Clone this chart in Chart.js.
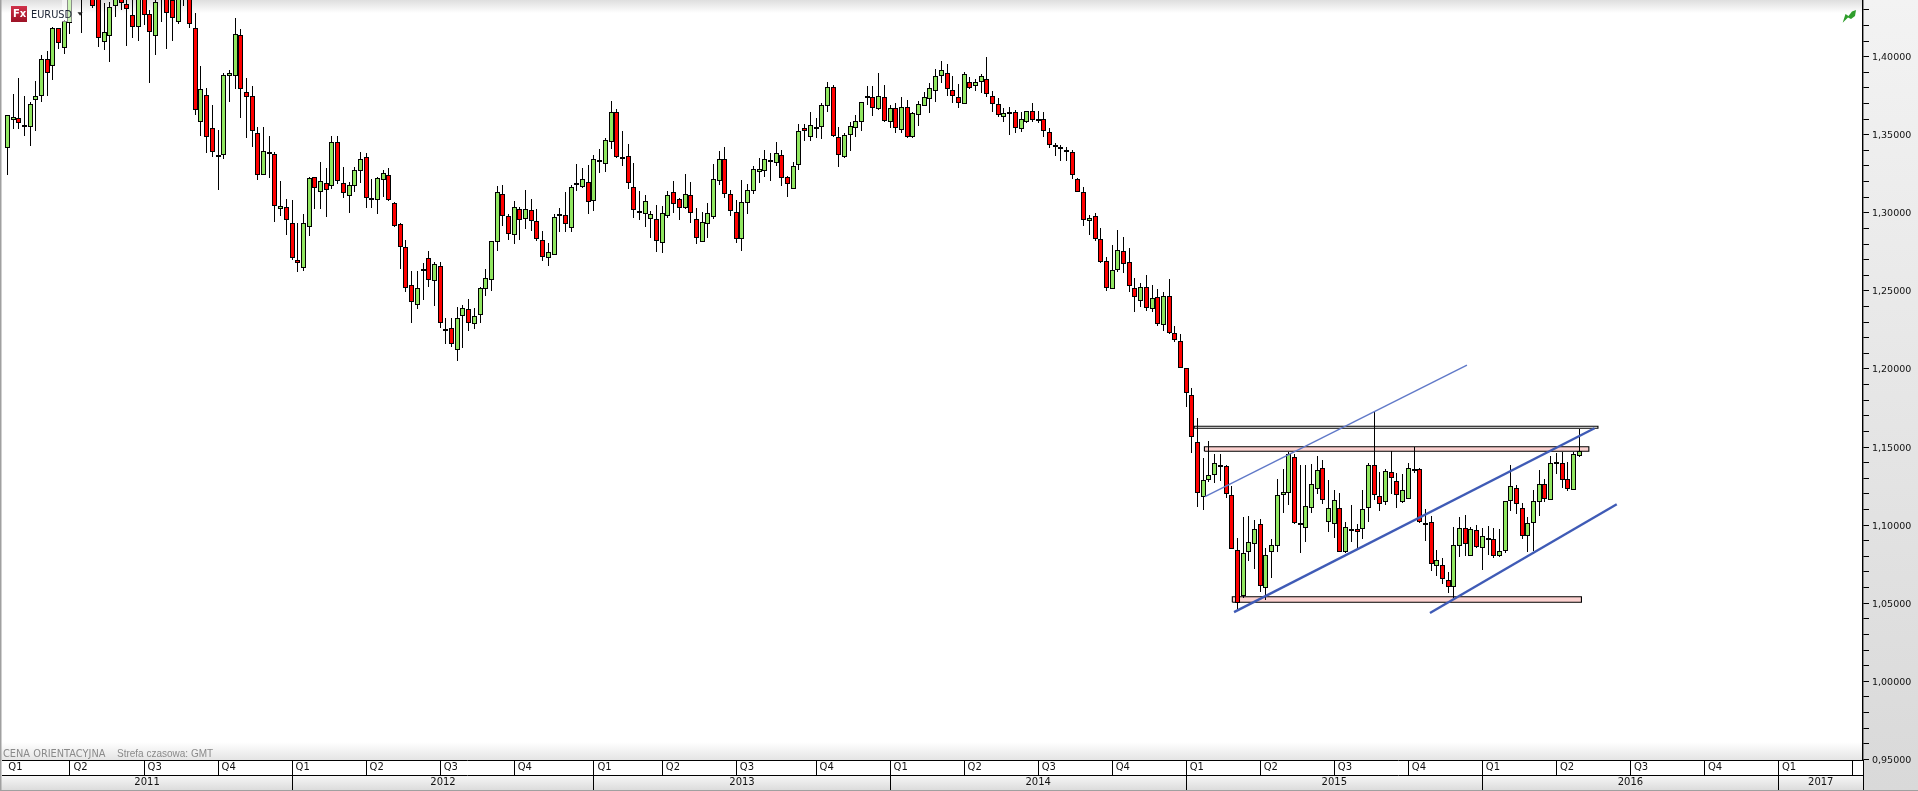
<!DOCTYPE html>
<html>
<head>
<meta charset="utf-8">
<title>EURUSD</title>
<script src="https://cdn.jsdelivr.net/npm/chart.js@4"></script>
<style>
  html, body { margin: 0; padding: 0; background: #fff; overflow: hidden; }
  canvas { display: block; }
</style>
</head>
<body>
<canvas id="chart" width="1918" height="791"></canvas>
<script>
// weekly candles (the ones above the top edge are guesses)
const opens = [
  1.3413,1.3592,1.3605,1.3560,1.3547,1.3720,1.3750,1.3987,1.3938,1.4182,
  1.4058,1.4218,1.4427,1.4427,1.4448,1.4406,1.4374,1.4092,1.4130,1.4325,
  1.4384,1.4335,1.4265,1.4188,1.4427,1.4271,1.4130,1.4395,1.4384,1.4363,
  1.4224,1.4384,1.4374,1.4182,1.3579,1.3752,1.3541,1.3368,1.3368,1.3874,
  1.3874,1.4137,1.3772,1.3746,1.3509,1.3240,1.3387,1.3374,1.3022,1.3035,
  1.2933,1.2696,1.2644,1.2907,1.3227,1.3131,1.3189,1.3170,1.3451,1.3189,
  1.3105,1.3170,1.3266,1.3355,1.3093,1.3080,1.3208,1.3240,1.3061,1.2926,
  1.2779,1.2535,1.2407,1.2625,1.2708,1.2561,1.2657,1.2256,1.2260,1.2119,
  1.2337,1.2382,1.2286,1.2343,1.2510,1.2567,1.2811,1.3118,1.2977,1.2856,
  1.3022,1.2958,1.3016,1.2945,1.2824,1.2708,1.2732,1.2977,1.2984,1.2901,
  1.3182,1.3163,1.3195,1.3073,1.3336,1.3310,1.3451,1.3644,1.3360,1.3362,
  1.3163,1.3009,1.2990,1.2958,1.2958,1.2804,1.2977,1.3131,1.3086,1.3029,
  1.3112,1.2958,1.2811,1.2926,1.2971,1.3202,1.3342,1.3118,1.3003,1.2830,
  1.3061,1.3138,1.3259,1.3266,1.3336,1.3317,1.3368,1.3227,1.3150,1.3304,
  1.3541,1.3483,1.3547,1.3547,1.3682,1.3804,1.3483,1.3355,1.3496,1.3541,
  1.3579,1.3746,1.3740,1.3663,1.3740,1.3579,1.3669,1.3528,1.3676,1.3483,
  1.3624,1.3682,1.3727,1.3778,1.3874,1.3893,1.3784,1.3740,1.3695,1.3836,
  1.3810,1.3836,1.3855,1.3746,1.3695,1.3616,1.3631,1.3644,1.3535,1.3579,
  1.3650,1.3603,1.3599,1.3515,1.3432,1.3419,1.3402,1.3387,1.3214,1.3131,
  1.2945,1.2977,1.2830,1.2689,1.2510,1.2632,1.2753,1.2683,1.2516,1.2433,
  1.2523,1.2382,1.2459,1.2279,1.2465,1.2228,1.2177,1.2004,1.1831,1.1530,
  1.1177,1.1286,1.1318,1.1382,1.1376,1.1190,1.0838,1.0543,1.0825,1.0876,
  1.1004,1.0594,1.0825,1.0863,1.1190,1.1203,1.1434,1.1011,1.0979,1.1107,
  1.1229,1.1363,1.1017,1.1004,1.1107,1.0825,1.0968,1.0972,1.0972,1.1107,
  1.1382,1.1184,1.1145,1.1337,1.1280,1.1145,1.1165,1.1357,1.1357,1.1011,
  1.1017,1.0735,1.0742,1.0646,1.0601,1.0863,1.0979,1.0799,1.0966,1.0851,
  1.0915,1.0908,1.0799,1.0831,1.1152,1.1235,1.1107,1.0928,1.1011,1.1145,
  1.1261,1.1158,1.1389,1.1395,1.1293,1.1222,1.1440
];
const closes = [
  1.3624,1.3611,1.3577,1.3552,1.3695,1.3750,1.3983,1.3898,1.4182,1.4085,
  1.4231,1.4384,1.4470,1.4384,1.4512,1.4325,1.4117,1.4160,1.4316,1.4448,
  1.4342,1.4303,1.4188,1.4406,1.4265,1.4156,1.4352,1.4448,1.4278,1.4246,
  1.4406,1.4427,1.4207,1.3656,1.3791,1.3483,1.3387,1.3362,1.3880,1.3893,
  1.4143,1.3791,1.3744,1.3522,1.3240,1.3394,1.3381,1.3041,1.3041,1.2952,
  1.2708,1.2676,1.2933,1.3221,1.3157,1.3202,1.3144,1.3451,1.3202,1.3125,
  1.3176,1.3272,1.3342,1.3093,1.3080,1.3221,1.3253,1.3084,1.2913,1.2779,
  1.2516,1.2431,1.2516,1.2638,1.2567,1.2670,1.2292,1.2251,1.2158,1.2324,
  1.2388,1.2292,1.2337,1.2516,1.2580,1.2817,1.3131,1.2977,1.2862,1.3035,
  1.2952,1.3022,1.2945,1.2830,1.2715,1.2747,1.2971,1.2990,1.2926,1.3163,
  1.3189,1.3214,1.3067,1.3342,1.3323,1.3464,1.3644,1.3355,1.3353,1.3189,
  1.3016,1.3003,1.3073,1.2990,1.2817,1.2997,1.3112,1.3054,1.3029,1.3118,
  1.2997,1.2836,1.2939,1.2997,1.3214,1.3342,1.3118,1.3009,1.2830,1.3067,
  1.3144,1.3278,1.3278,1.3342,1.3330,1.3381,1.3221,1.3182,1.3298,1.3522,
  1.3522,1.3560,1.3541,1.3688,1.3804,1.3490,1.3368,1.3496,1.3554,1.3586,
  1.3708,1.3740,1.3669,1.3746,1.3586,1.3669,1.3541,1.3676,1.3483,1.3637,
  1.3695,1.3740,1.3797,1.3874,1.3913,1.3791,1.3750,1.3701,1.3887,1.3801,
  1.3836,1.3874,1.3759,1.3695,1.3624,1.3637,1.3644,1.3541,1.3599,1.3650,
  1.3592,1.3597,1.3522,1.3432,1.3426,1.3413,1.3400,1.3240,1.3131,1.2952,
  1.2965,1.2830,1.2683,1.2516,1.2632,1.2760,1.2670,1.2529,1.2459,1.2523,
  1.2388,1.2452,1.2286,1.2465,1.2228,1.2183,1.2004,1.1844,1.1562,1.1203,
  1.1286,1.1318,1.1395,1.1376,1.1197,1.0844,1.0498,1.0819,1.0889,1.0972,
  1.0607,1.0806,1.0870,1.1190,1.1209,1.1453,1.1011,1.0998,1.1120,1.1261,
  1.1350,1.1158,1.1107,1.1158,1.0825,1.0985,1.0972,1.0957,1.1100,1.1382,
  1.1190,1.1137,1.1344,1.1299,1.1190,1.1222,1.1363,1.1350,1.1019,1.1004,
  1.0748,1.0774,1.0652,1.0601,1.0870,1.0979,1.0876,1.0972,1.0861,1.0928,
  1.0913,1.0799,1.0831,1.1152,1.1248,1.1132,1.0928,1.1011,1.1152,1.1261,
  1.1165,1.1395,1.1402,1.1286,1.1229,1.1453,1.1476
];
const highs = [
  1.3626,1.3761,1.3861,1.3748,1.3712,1.3844,1.4011,1.4036,1.4188,1.4184,
  1.4235,1.4448,1.4491,1.4470,1.4534,1.4448,1.4406,1.4346,1.4352,1.4470,
  1.4427,1.4363,1.4363,1.4427,1.4459,1.4299,1.4363,1.4470,1.4427,1.4374,
  1.4448,1.4470,1.4395,1.4278,1.3940,1.3797,1.3690,1.3530,1.3893,1.3915,
  1.4246,1.4175,1.3861,1.3812,1.3547,1.3547,1.3492,1.3387,1.3202,1.3086,
  1.3082,1.2933,1.2990,1.3231,1.3231,1.3323,1.3285,1.3492,1.3492,1.3291,
  1.3199,1.3295,1.3387,1.3381,1.3214,1.3227,1.3272,1.3285,1.3067,1.2933,
  1.2826,1.2625,1.2625,1.2676,1.2753,1.2683,1.2683,1.2324,1.2324,1.2395,
  1.2409,1.2446,1.2388,1.2527,1.2638,1.2817,1.3172,1.3178,1.2990,1.3073,
  1.3039,1.3144,1.3086,1.3022,1.2881,1.2807,1.2990,1.3029,1.3131,1.3176,
  1.3313,1.3285,1.3304,1.3370,1.3409,1.3477,1.3714,1.3663,1.3524,1.3439,
  1.3317,1.3138,1.3112,1.3014,1.3048,1.3044,1.3138,1.3202,1.3093,1.3249,
  1.3195,1.3029,1.3003,1.3061,1.3313,1.3394,1.3419,1.3146,1.3080,1.3208,
  1.3182,1.3298,1.3349,1.3402,1.3381,1.3451,1.3402,1.3234,1.3323,1.3567,
  1.3569,1.3644,1.3605,1.3701,1.3836,1.3816,1.3550,1.3509,1.3579,1.3624,
  1.3708,1.3812,1.3812,1.3893,1.3819,1.3688,1.3701,1.3740,1.3720,1.3644,
  1.3714,1.3772,1.3829,1.3919,1.3972,1.3951,1.3874,1.3823,1.3904,1.3868,
  1.3855,1.3889,1.3996,1.3780,1.3733,1.3669,1.3676,1.3658,1.3646,1.3652,
  1.3701,1.3650,1.3644,1.3541,1.3445,1.3432,1.3419,1.3400,1.3221,1.3163,
  1.2984,1.2997,1.2901,1.2715,1.2792,1.2888,1.2843,1.2772,1.2580,1.2548,
  1.2599,1.2535,1.2510,1.2495,1.2574,1.2273,1.2222,1.2004,1.1876,1.1683,
  1.1427,1.1538,1.1453,1.1453,1.1384,1.1250,1.0915,1.1049,1.1056,1.1032,
  1.1036,1.0851,1.0908,1.1293,1.1357,1.1470,1.1453,1.1382,1.1382,1.1389,
  1.1440,1.1414,1.1286,1.1222,1.1203,1.1021,1.1126,1.1004,1.1222,1.1395,
  1.1726,1.1337,1.1357,1.1472,1.1331,1.1325,1.1395,1.1502,1.1363,1.1100,
  1.1058,1.0840,1.0787,1.0697,1.0985,1.1049,1.1064,1.0989,1.1000,1.0979,
  1.0992,1.0979,1.0972,1.1154,1.1384,1.1254,1.1139,1.1049,1.1224,1.1350,
  1.1293,1.1442,1.1463,1.1466,1.1404,1.1466,1.1615
];
const lows = [
  1.3244,1.3535,1.3535,1.3492,1.3428,1.3526,1.3710,1.3748,1.3851,1.4049,
  1.4017,1.4145,1.4374,1.4154,1.4384,1.4310,1.4064,1.4043,1.3968,1.4256,
  1.4299,1.4071,1.4122,1.4103,1.4203,1.3834,1.4011,1.4224,1.4051,1.4103,
  1.4209,1.4325,1.4182,1.3626,1.3492,1.3385,1.3355,1.3146,1.3347,1.3712,
  1.3791,1.3609,1.3481,1.3424,1.3210,1.3240,1.3221,1.2943,1.2980,1.2858,
  1.2698,1.2623,1.2629,1.2854,1.3022,1.3022,1.2975,1.3155,1.3184,1.3095,
  1.3001,1.3135,1.3193,1.3031,1.3031,1.2992,1.3099,1.3078,1.2907,1.2638,
  1.2495,1.2292,1.2384,1.2441,1.2523,1.2403,1.2260,1.2162,1.2143,1.2049,
  1.2136,1.2245,1.2256,1.2296,1.2469,1.2501,1.2757,1.2918,1.2828,1.2802,
  1.2828,1.2894,1.2886,1.2822,1.2693,1.2661,1.2728,1.2879,1.2879,1.2879,
  1.3142,1.3157,1.2994,1.3014,1.3257,1.3263,1.3411,1.3349,1.3302,1.3150,
  1.2969,1.2956,1.2911,1.2841,1.2751,1.2745,1.2965,1.3001,1.2956,1.3022,
  1.2937,1.2798,1.2811,1.2836,1.2958,1.3176,1.3097,1.2982,1.2809,1.2757,
  1.2994,1.3123,1.3189,1.3231,1.3204,1.3298,1.3174,1.3103,1.3150,1.3276,
  1.3462,1.3462,1.3479,1.3475,1.3648,1.3483,1.3295,1.3349,1.3398,1.3488,
  1.3526,1.3688,1.3620,1.3656,1.3584,1.3545,1.3513,1.3509,1.3477,1.3477,
  1.3558,1.3682,1.3641,1.3708,1.3834,1.3750,1.3705,1.3669,1.3695,1.3791,
  1.3782,1.3769,1.3744,1.3646,1.3614,1.3584,1.3498,1.3513,1.3515,1.3573,
  1.3582,1.3573,1.3483,1.3417,1.3364,1.3334,1.3334,1.3214,1.3131,1.2915,
  1.2858,1.2822,1.2676,1.2501,1.2510,1.2619,1.2617,1.2491,1.2362,1.2395,
  1.2369,1.2362,1.2273,1.2245,1.2222,1.2170,1.2004,1.1758,1.1464,1.1118,
  1.1098,1.1276,1.1267,1.1284,1.1175,1.0844,1.0460,1.0530,1.0772,1.0716,
  1.0573,1.0520,1.0663,1.0825,1.1075,1.1128,1.1004,1.0823,1.0889,1.1077,
  1.1197,1.1132,1.0957,1.0919,1.0825,1.0819,1.0893,1.0851,1.0908,1.1021,
  1.1158,1.1092,1.1126,1.1197,1.1111,1.1139,1.1165,1.1335,1.1011,1.0900,
  1.0708,1.0673,1.0620,1.0562,1.0530,1.0797,1.0799,1.0799,1.0853,1.0712,
  1.0808,1.0787,1.0793,1.0819,1.1092,1.1068,1.0913,1.0829,1.0834,1.1060,
  1.1150,1.1158,1.1327,1.1239,1.1220,1.1222,1.1434
];

// time axis, as week numbers
const quarterStarts = [-0.45,11,24,37,50,63,76,89,103,115,128,142,155,168,181,194,207,220,233,246,259,272,285,298,311,324];
const quarterLabels = ["Q1","Q2","Q3","Q4","Q1","Q2","Q3","Q4","Q1","Q2","Q3","Q4","Q1","Q2","Q3","Q4","Q1","Q2","Q3","Q4","Q1","Q2","Q3","Q4","Q1",""];
const yearStarts = [50,103,155,207,259,311];
const yearLabels = ["2011","2012","2013","2014","2015","2016","2017"];

// drawn lines and zones: [from, to] in weeks and prices
const thinLineX = [210.3, 256.3];
const thinLineY = [1.1182, 1.2025];
const upperTrendX = [215.4, 278.7];
const upperTrendY = [1.0443, 1.1620];
const lowerTrendX = [249.8, 282.6];
const lowerTrendY = [1.0437, 1.1133];
const blackZoneX = [208.4, 279.3];
const blackZoneY = [1.1633, 1.1620];
const upperZoneX = [210.2, 277.7];
const upperZoneY = [1.1502, 1.1473];
const lowerZoneX = [215.1, 276.4];
const lowerZoneY = [1.0541, 1.0506];

const xMin = -0.936, xMax = 325.84;
const yMin = 0.94955, yMax = 1.43632;
const uiFont = '"DejaVu Sans", sans-serif';

function twoPoints(xs, ys) {
  return xs.map((x, i) => ({ x: x, y: ys[i] }));
}

function zoneOutline(xs, ys) {
  return [
    { x: xs[0], y: ys[1] }, { x: xs[0], y: ys[0] }, { x: xs[1], y: ys[0] },
    { x: xs[1], y: ys[1] }, { x: xs[0], y: ys[1] }
  ];
}

function lineSet(data, color, width, order) {
  return { type: 'line', data: data, borderColor: color, borderWidth: width, pointRadius: 0, fill: false, tension: 0, order: order };
}

function pinkFill(xs, ys) {
  return {
    type: 'line', data: [{ x: xs[0], y: ys[0] }, { x: xs[1], y: ys[0] }],
    borderWidth: 0, pointRadius: 0, backgroundColor: '#fcd2d0', fill: { value: ys[1] }, order: 5
  };
}

const wicks = lows.map((low, i) => ({ x: i, y: [low, highs[i]] }));
const bodies = opens.map((open, i) => ({ x: i, y: [open, closes[i]] }));
const bodyColors = opens.map((open, i) => closes[i] >= open ? '#90e660' : '#ff0000');

// snap the candles to whole pixels so they stay crisp, dojis keep two rows
const snapPlugin = {
  id: 'snap',
  afterDatasetsUpdate(chart) {
    chart.getSortedVisibleDatasetMetas().forEach(meta => {
      if (meta.type !== 'bar') return;
      meta.data.forEach(bar => {
        bar.x = Math.floor(bar.x) + 0.5;
        const top = Math.round(Math.min(bar.y, bar.base));
        const bottom = Math.round(Math.max(bar.y, bar.base));
        bar.y = top;
        bar.base = Math.max(bottom, top + 2);
      });
    });
  }
};

// window furniture around the plot
const chromePlugin = {
  id: 'chrome',
  beforeDraw(chart) {
    const ctx = chart.ctx;
    const area = chart.chartArea;
    const w = chart.width, h = chart.height;
    ctx.save();
    ctx.fillStyle = '#fff';
    ctx.fillRect(0, 0, w, h);

    let g = ctx.createLinearGradient(0, 0, 0, 13);
    g.addColorStop(0, '#dedede');
    g.addColorStop(1, '#ffffff');
    ctx.fillStyle = g;
    ctx.fillRect(0, 0, area.right, 13);

    g = ctx.createLinearGradient(0, area.bottom - 18, 0, area.bottom);
    g.addColorStop(0, '#ffffff');
    g.addColorStop(1, '#e4e4e4');
    ctx.fillStyle = g;
    ctx.fillRect(0, area.bottom - 18, area.right, 18);

    g = ctx.createLinearGradient(0, 0, 0, h);
    g.addColorStop(0, '#f3f3f3');
    g.addColorStop(1, '#d9d9d9');
    ctx.fillStyle = g;
    ctx.fillRect(area.right, 0, w - area.right, h);

    const yearAxis = chart.scales.xYear;
    g = ctx.createLinearGradient(0, yearAxis.top, 0, yearAxis.bottom);
    g.addColorStop(0, '#f8f8f8');
    g.addColorStop(1, '#dcdcdc');
    ctx.fillStyle = g;
    ctx.fillRect(0, yearAxis.top, area.right, yearAxis.bottom - yearAxis.top);

    ctx.fillStyle = '#a0a0a0';
    ctx.fillRect(0, 0, 1.5, h);
    ctx.fillRect(0, h - 1, w, 1);
    ctx.restore();
  },
  afterDraw(chart) {
    const ctx = chart.ctx;
    const area = chart.chartArea;
    ctx.save();
    // faded strip behind the symbol name
    ctx.fillStyle = 'rgba(255,255,255,0.55)';
    ctx.fillRect(62, 0, 10, 22);

    const badge = ctx.createLinearGradient(0, 6, 0, 22);
    badge.addColorStop(0, '#d0324a');
    badge.addColorStop(1, '#9c1226');
    ctx.fillStyle = badge;
    ctx.fillRect(11, 6, 16, 16);
    ctx.fillStyle = '#fff';
    ctx.font = 'bold 10px ' + uiFont;
    ctx.textBaseline = 'middle';
    ctx.fillText('Fx', 13, 14.5);

    ctx.fillStyle = '#1a2233';
    ctx.font = '9.8px ' + uiFont;
    ctx.fillText('EURUSD', 31, 15);
    ctx.fillStyle = '#222';
    ctx.beginPath();
    ctx.moveTo(77.5, 12.3);
    ctx.lineTo(82.7, 12.3);
    ctx.lineTo(80.1, 15.8);
    ctx.fill();

    ctx.fillStyle = '#8a8a8a';
    ctx.fillText('CENA ORIENTACYJNA', 3, area.bottom - 5.5);
    ctx.font = '10px "Liberation Sans", sans-serif';
    ctx.fillText('Strefa czasowa: GMT', 117, area.bottom - 5.5);

    // small green arrow in the corner
    ctx.fillStyle = '#2f9e2c';
    ctx.beginPath();
    ctx.moveTo(1842.7, 22.7);
    ctx.lineTo(1845.5, 14);
    ctx.lineTo(1848.5, 16);
    ctx.lineTo(1852, 11.5);
    ctx.lineTo(1856, 10);
    ctx.lineTo(1855, 16);
    ctx.lineTo(1851, 19);
    ctx.lineTo(1848, 17.5);
    ctx.fill();
    ctx.restore();
  }
};

const rowTicks = {
  autoSkip: false, maxRotation: 0, minRotation: 0, color: '#111',
  font: { family: uiFont, size: 10 }
};

new Chart(document.getElementById('chart').getContext('2d'), {
  type: 'bar',
  data: {
    datasets: [
      lineSet(twoPoints(thinLineX, thinLineY), '#6079c8', 1.4, 0),
      lineSet(twoPoints(upperTrendX, upperTrendY), '#3f5bb6', 2.4, 0),
      lineSet(twoPoints(lowerTrendX, lowerTrendY), '#3f5bb6', 2.4, 0),
      {
        label: 'bodies', data: bodies, backgroundColor: bodyColors, borderColor: '#000', borderWidth: 1,
        borderSkipped: false, barPercentage: 1, categoryPercentage: 1, maxBarThickness: 5,
        grouped: false, inflateAmount: 0, order: 1
      },
      {
        label: 'wicks', data: wicks, backgroundColor: '#000', borderWidth: 0,
        barPercentage: 1, categoryPercentage: 1, maxBarThickness: 1,
        grouped: false, inflateAmount: 0, order: 2
      },
      lineSet(zoneOutline(blackZoneX, blackZoneY), '#000', 1.1, 3),
      lineSet(zoneOutline(upperZoneX, upperZoneY), '#000', 1.1, 4),
      lineSet(zoneOutline(lowerZoneX, lowerZoneY), '#000', 1.1, 4),
      pinkFill(upperZoneX, upperZoneY),
      pinkFill(lowerZoneX, lowerZoneY)
    ]
  },
  options: {
    responsive: false,
    animation: false,
    devicePixelRatio: 1,
    layout: { padding: { left: 2, bottom: 1 } },
    plugins: { legend: { display: false }, tooltip: { enabled: false } },
    scales: {
      x: { type: 'linear', display: false, offset: false, min: xMin, max: xMax },
      y: {
        position: 'right',
        min: yMin,
        max: yMax,
        afterBuildTicks(axis) {
          const ticks = [];
          for (let n = 95; n <= 143; n++) ticks.push({ value: n / 100 });
          axis.ticks = ticks;
        },
        afterFit(axis) {
          axis.width = 55;
          axis.paddingTop = 0;
          axis.paddingBottom = 0;
        },
        grid: { drawOnChartArea: false, tickLength: 6, tickColor: '#000', tickWidth: 1 },
        border: { color: '#000', width: 1.4 },
        ticks: {
          autoSkip: false, padding: 3, labelOffset: 1, color: '#111',
          font: { family: uiFont, size: 9.5 },
          callback: (value, index) => index % 5 === 0 ? value.toFixed(5).replace('.', ',') : ''
        }
      },
      xQuarter: {
        type: 'linear',
        position: 'bottom',
        offset: false,
        weight: 1,
        min: xMin,
        max: xMax,
        afterBuildTicks(axis) {
          axis.ticks = quarterStarts.concat(xMax).map(v => ({ value: v }));
        },
        afterFit(axis) {
          axis.height = 15;
          axis.paddingLeft = 0;
          axis.paddingRight = 0;
        },
        grid: {
          offset: false, drawOnChartArea: false, tickLength: 15, tickWidth: 1,
          tickColor: ctx => ctx.index === 0 ? 'transparent' : '#000'
        },
        border: { color: '#000', width: 1 },
        ticks: {
          ...rowTicks, align: 'start', padding: -13.5, labelOffset: 3.5,
          callback: (value, index) => quarterLabels[index] || ''
        }
      },
      xYear: {
        type: 'linear',
        position: 'bottom',
        offset: false,
        weight: 2,
        min: xMin,
        max: xMax,
        afterBuildTicks(axis) {
          const edges = [xMin].concat(yearStarts, xMax);
          const ticks = edges.map(v => ({ value: v }));
          edges.slice(1).forEach((edge, i) => ticks.push({ value: (edges[i] + edge) / 2 }));
          ticks.sort((a, b) => a.value - b.value);
          axis.ticks = ticks;
        },
        afterFit(axis) {
          axis.height = 15;
          axis.paddingLeft = 0;
          axis.paddingRight = 0;
        },
        grid: {
          offset: false, drawOnChartArea: false, tickLength: 15, tickWidth: 1,
          tickColor: ctx => ctx.index % 2 === 1 || ctx.index === 0 ? 'transparent' : '#000'
        },
        border: { color: '#000', width: 1 },
        ticks: {
          ...rowTicks, padding: -13.5,
          callback: (value, index) => index % 2 === 1 ? yearLabels[(index - 1) / 2] : ''
        }
      }
    }
  },
  plugins: [snapPlugin, chromePlugin]
});
</script>
</body>
</html>
